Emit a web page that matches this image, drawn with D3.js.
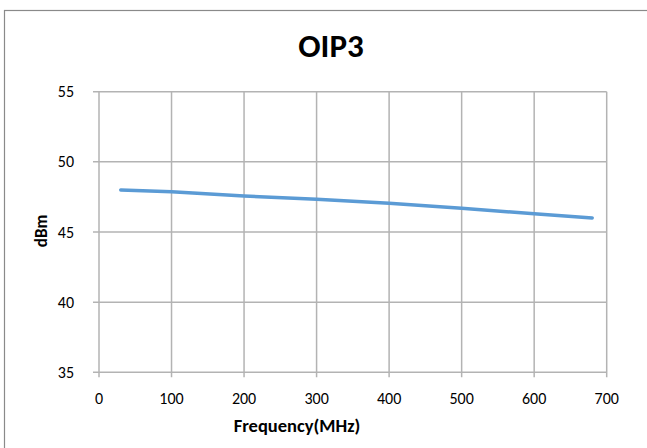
<!DOCTYPE html>
<html><head><meta charset="utf-8">
<script src="https://cdn.jsdelivr.net/npm/d3@7"></script>
<style>
html,body{margin:0;padding:0;background:#fff;overflow:hidden}
text{font-family:Carlito,Calibri,Lato,sans-serif;fill:#000}
</style></head>
<body>
<script>
const frequency = [30, 100, 200, 300, 400, 500, 600, 680];
const oip3 = [48.0, 47.87, 47.56, 47.33, 47.05, 46.69, 46.3, 46.0];
const xTicks = [0, 100, 200, 300, 400, 500, 600, 700];
const yTicks = [35, 40, 45, 50, 55];
const title = "OIP3";
const xTitle = "Frequency(MHz)";
const yTitle = "dBm";

const W = 647, H = 448;
const svg = d3.select("body").append("svg").attr("width", W).attr("height", H);
svg.append("rect").attr("width", W).attr("height", H).attr("fill", "#fff");
// chart border (cropped on right/bottom)
svg.append("rect").attr("x", 4.5).attr("y", 10.5).attr("width", W + 20).attr("height", H + 20)
  .attr("fill", "none").attr("stroke", "#8a8a8a").attr("stroke-width", 1.2);

const x = d3.scaleLinear().domain([0, 700]).range([99, 606.7]);
const y = d3.scaleLinear().domain([35, 55]).range([372.3, 91.7]);
const gridColor = "#b3b3b3";

// gridlines
svg.append("g").selectAll("line").data(yTicks).join("line")
  .attr("x1", x(0) - 6).attr("x2", x(700)).attr("y1", d => y(d)).attr("y2", d => y(d))
  .attr("stroke", gridColor).attr("stroke-width", 1.5);
svg.append("g").selectAll("line").data(xTicks).join("line")
  .attr("x1", d => x(d)).attr("x2", d => x(d)).attr("y1", y(55)).attr("y2", y(35) + 5)
  .attr("stroke", gridColor).attr("stroke-width", 1.5);

// tick labels
svg.append("g").selectAll("text").data(yTicks).join("text")
  .attr("x", 74).attr("y", d => y(d) + 5.5).attr("text-anchor", "end")
  .attr("font-size", 16).text(d => d);
svg.append("g").selectAll("text").data(xTicks).join("text")
  .attr("x", d => x(d)).attr("y", 404).attr("text-anchor", "middle")
  .attr("font-size", 16).text(d => d);

// line
const line = d3.line().x((d, i) => x(frequency[i])).y(d => y(d));
svg.append("path").datum(oip3).attr("d", line).attr("fill", "none")
  .attr("stroke", "#5B9BD5").attr("stroke-width", 3.5).attr("stroke-linecap", "round")
  .attr("stroke-linejoin", "round");

// titles
svg.append("text").attr("x", 331).attr("y", 57).attr("text-anchor", "middle")
  .attr("font-size", 33).attr("font-weight", "bold").text(title);
svg.append("text").attr("x", 297).attr("y", 432).attr("text-anchor", "middle")
  .attr("font-size", 18.5).attr("font-weight", "bold").text(xTitle);
svg.append("text").attr("transform", "translate(47,231) rotate(-90)").attr("text-anchor", "middle")
  .attr("font-size", 17).attr("font-weight", "bold").text(yTitle);
</script>
</body></html>
